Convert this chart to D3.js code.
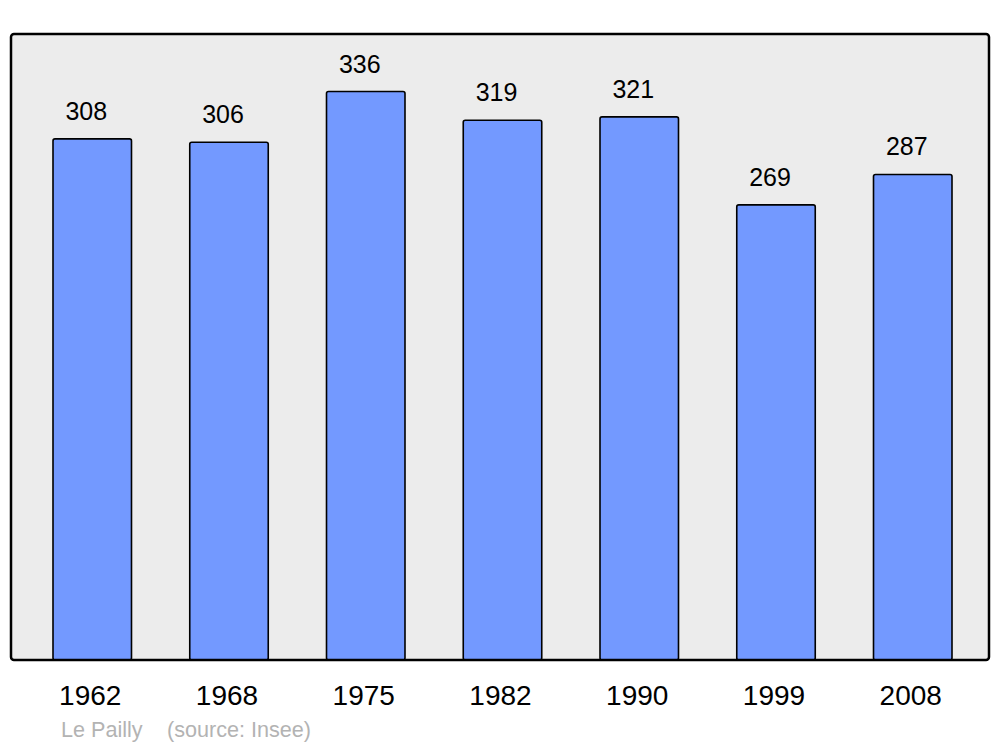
<!DOCTYPE html>
<html>
<head>
<meta charset="utf-8">
<script src="https://cdn.jsdelivr.net/npm/d3@7"></script>
<style>
  body { margin: 0; background: #fff; }
  text { font-family: "Liberation Sans", Arial, sans-serif; }
</style>
</head>
<body>
<div id="chart"></div>
<script>
// population per census year
var years = ["1962", "1968", "1975", "1982", "1990", "1999", "2008"];
var population = [308, 306, 336, 319, 321, 269, 287];
var commune = "Le Pailly";
var source = "(source: Insee)";

var width = 1000, height = 747;

var svg = d3.select('#chart')
    .append('svg')
    .attr('width', width)
    .attr('height', height);

// plot frame
var frame = { left: 11, top: 34, right: 989, bottom: 660 };

var x = d3.scaleBand()
    .domain(years)
    .range([53, 952])
    .paddingInner(0.426)
    .paddingOuter(0);

var y = d3.scaleLinear()
    .domain([0, 370])
    .range([frame.bottom, frame.top]);

svg.append('rect')
    .attr('x', frame.left)
    .attr('y', frame.top)
    .attr('width', frame.right - frame.left)
    .attr('height', frame.bottom - frame.top)
    .attr('rx', 3)
    .attr('fill', '#ececec');

var data = years.map(function (d, i) { return { year: d, value: population[i] }; });

// bars
svg.selectAll('.bar')
    .data(data)
    .enter()
    .append('rect')
    .attr('class', 'bar')
    .attr('x', function (d) { return x(d.year); })
    .attr('y', function (d) { return y(d.value); })
    .attr('width', x.bandwidth())
    .attr('height', function (d) { return y(0) - y(d.value); })
    .attr('rx', 2)
    .attr('fill', '#7399ff')
    .attr('stroke', '#000')
    .attr('stroke-width', 1.6);

// frame border on top so it covers the bar bottoms
svg.append('rect')
    .attr('x', frame.left)
    .attr('y', frame.top)
    .attr('width', frame.right - frame.left)
    .attr('height', frame.bottom - frame.top)
    .attr('rx', 3)
    .attr('fill', 'none')
    .attr('stroke', '#000')
    .attr('stroke-width', 2.5);

// value labels
svg.selectAll('.val')
    .data(data)
    .enter()
    .append('text')
    .attr('class', 'val')
    .attr('x', function (d) { return x(d.year) + x.bandwidth() / 2 - 6; })
    .attr('y', function (d) { return y(d.value) - 19; })
    .attr('text-anchor', 'middle')
    .attr('font-size', 25)
    .text(function (d) { return d.value; });

// year labels
svg.selectAll('.yr')
    .data(data)
    .enter()
    .append('text')
    .attr('class', 'yr')
    .attr('x', function (d) { return x(d.year) + x.bandwidth() / 2 - 2; })
    .attr('y', 705)
    .attr('text-anchor', 'middle')
    .attr('font-size', 28)
    .text(function (d) { return d.year; });

// caption
svg.append('text')
    .attr('x', 61)
    .attr('y', 737)
    .attr('font-size', 21.6)
    .attr('fill', '#b3b3b3')
    .text(commune);

svg.append('text')
    .attr('x', 167)
    .attr('y', 737)
    .attr('font-size', 21.6)
    .attr('fill', '#b3b3b3')
    .text(source);
</script>
</body>
</html>
